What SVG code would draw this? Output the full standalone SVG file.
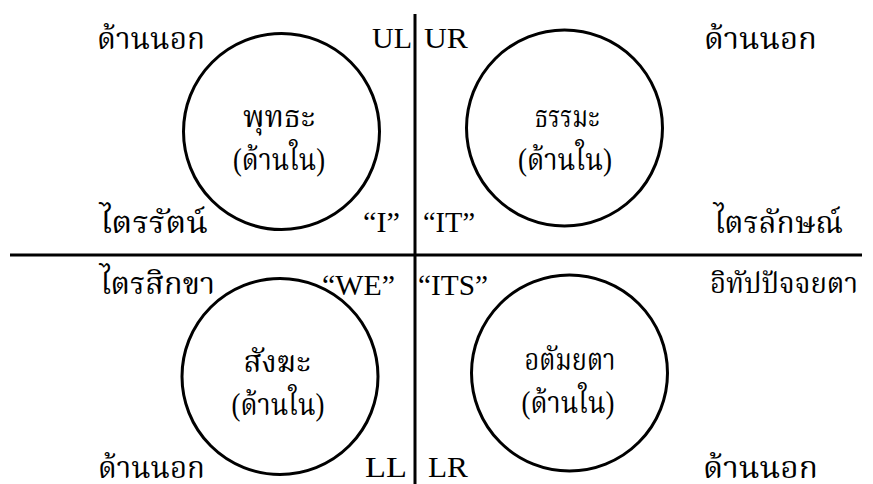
<svg xmlns="http://www.w3.org/2000/svg" width="873" height="484" viewBox="0 0 873 484">
<style>
text{font-family:"Liberation Serif","Noto Serif Thai","Noto Sans Thai","DejaVu Serif",serif;font-size:29px;fill:#000}
.t{font-size:31px}
.s{font-size:28px}
.c{fill:none;stroke:#000;stroke-width:3}
.m{text-anchor:middle}
.ln{stroke:#000;stroke-width:3}
</style>
<rect width="873" height="484" fill="#fff"/>
<g id="connectors">
<line class="ln" x1="415" y1="14" x2="415" y2="484"/>
<line class="ln" x1="10" y1="255" x2="862" y2="255"/>
</g>
<g id="buddha">
<circle class="c" cx="281.5" cy="131.5" r="98"/>
<text class="t m" x="279" y="127" textLength="72" lengthAdjust="spacingAndGlyphs">พุทธะ</text>
<text class="t m" x="279" y="170" textLength="92" lengthAdjust="spacingAndGlyphs">(ด้านใน)</text>
</g>
<g id="dhamma">
<circle class="c" cx="564.5" cy="128" r="98"/>
<text class="t m" x="567" y="127" textLength="65" lengthAdjust="spacingAndGlyphs">ธรรมะ</text>
<text class="t m" x="565" y="170" textLength="94" lengthAdjust="spacingAndGlyphs">(ด้านใน)</text>
</g>
<g id="sangha">
<circle class="c" cx="280" cy="376.5" r="98"/>
<text class="t m" x="277" y="372" textLength="67" lengthAdjust="spacingAndGlyphs">สังฆะ</text>
<text class="t m" x="278" y="415" textLength="93" lengthAdjust="spacingAndGlyphs">(ด้านใน)</text>
</g>
<g id="atammayata">
<circle class="c" cx="569.5" cy="373" r="98"/>
<text class="t m" x="570" y="370" textLength="91" lengthAdjust="spacingAndGlyphs">อตัมยตา</text>
<text class="t m" x="568" y="413" textLength="93" lengthAdjust="spacingAndGlyphs">(ด้านใน)</text>
</g>
<g id="labels">
<text class="t" x="97" y="49" textLength="108" lengthAdjust="spacingAndGlyphs">ด้านนอก</text>
<text x="372" y="48" textLength="40" lengthAdjust="spacingAndGlyphs">UL</text>
<text x="424" y="48" textLength="44" lengthAdjust="spacingAndGlyphs">UR</text>
<text class="t" x="704" y="49" textLength="113" lengthAdjust="spacingAndGlyphs">ด้านนอก</text>
<text class="t" x="100" y="233" textLength="108" lengthAdjust="spacingAndGlyphs">ไตรรัตน์</text>
<text x="363" y="232" textLength="37" lengthAdjust="spacingAndGlyphs">“I”</text>
<text x="423" y="232" textLength="52" lengthAdjust="spacingAndGlyphs">“IT”</text>
<text class="t" x="714" y="233" textLength="129" lengthAdjust="spacingAndGlyphs">ไตรลักษณ์</text>
<text class="t" x="100" y="294" textLength="115" lengthAdjust="spacingAndGlyphs">ไตรสิกขา</text>
<text x="322" y="295" textLength="73" lengthAdjust="spacingAndGlyphs">“WE”</text>
<text x="418" y="295" textLength="70" lengthAdjust="spacingAndGlyphs">“ITS”</text>
<text class="s" x="710" y="293" textLength="148" lengthAdjust="spacingAndGlyphs">อิทัปปัจจยตา</text>
<text class="t" x="98" y="478" textLength="107" lengthAdjust="spacingAndGlyphs">ด้านนอก</text>
<text x="365" y="477" textLength="42" lengthAdjust="spacingAndGlyphs">LL</text>
<text x="428" y="477" textLength="40" lengthAdjust="spacingAndGlyphs">LR</text>
<text class="t" x="703" y="478" textLength="115" lengthAdjust="spacingAndGlyphs">ด้านนอก</text>
</g>
</svg>
